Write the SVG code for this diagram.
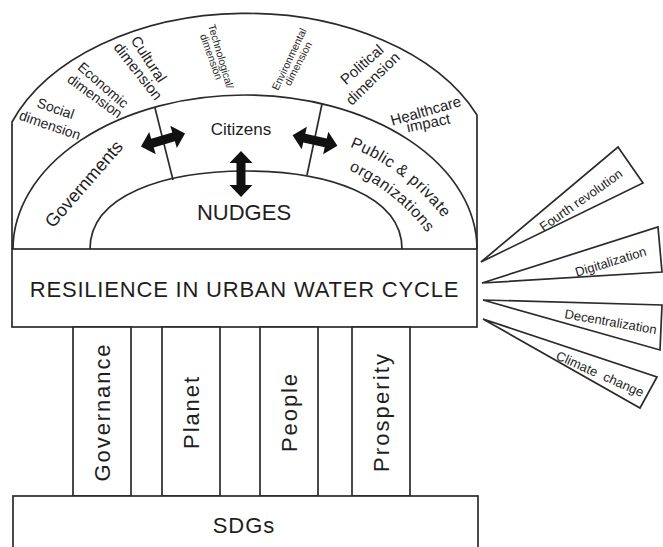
<svg xmlns="http://www.w3.org/2000/svg" width="663" height="547" viewBox="0 0 663 547">
<style>
.ln{fill:none;stroke:#2b2b2b;stroke-width:1.7;stroke-linejoin:round}
.bx{fill:#fff;stroke:#2b2b2b;stroke-width:1.7}
text{font-family:"Liberation Sans",Arial,sans-serif;fill:#1e1e1e}
.c{text-anchor:middle;dominant-baseline:central}
.arrow{fill:#111}
</style>
<defs>
<polygon id="dbl" points="-23,0 -11,-11.5 -11,-4.5 11,-4.5 11,-11.5 23,0 11,11.5 11,4.5 -11,4.5 -11,11.5"/>
<path id="pp1" d="M343.2,144.3 A220,220 0 0 1 474.7,275.8"/>
<path id="pp2" d="M335.7,164.9 A198,198 0 0 1 454.1,283.3"/>
</defs>
<rect width="663" height="547" fill="#fff"/>

<g id="dome">
<path class="ln" d="M12,249 L12,122 A250,166 0 0 1 477,115 L477,249"/>
<path class="ln" d="M13,249 A232,154 0 0 1 477,249"/>
<path class="ln" d="M90,249 C90,195 165,171 246,171 C327,171 402,195 402,249"/>
<line class="ln" x1="155" y1="108" x2="173" y2="180"/>
<line class="ln" x1="322" y1="104" x2="307" y2="175"/>
</g>

<g id="dimensions">
<text class="c" font-size="14" transform="translate(55.7,108.3) rotate(19)">Social</text>
<text class="c" font-size="14" transform="translate(50,125) rotate(19)">dimension</text>
<text class="c" font-size="14" transform="translate(103.3,85) rotate(41)">Economic</text>
<text class="c" font-size="14" transform="translate(95,96) rotate(36)">dimension</text>
<text class="c" font-size="15" transform="translate(149,59) rotate(57)">Cultural</text>
<text class="c" font-size="15" transform="translate(138.3,71) rotate(52)">dimension</text>
<text class="c" font-size="10.5" transform="translate(221.3,56.3) rotate(73.7)">Technological/</text>
<text class="c" font-size="10.5" transform="translate(211.7,56.7) rotate(70.3)">dimension</text>
<text class="c" font-size="10.5" transform="translate(288.8,59) rotate(-64.6)">Environmental</text>
<text class="c" font-size="10.5" transform="translate(297.8,63.4) rotate(-62.6)">dimension</text>
<text class="c" font-size="15" transform="translate(361.7,64.2) rotate(-41.5)">Political</text>
<text class="c" font-size="15" transform="translate(372.5,78.3) rotate(-44)">dimension</text>
<text class="c" font-size="15" transform="translate(425.7,110.5) rotate(-16)">Healthcare</text>
<text class="c" font-size="15" transform="translate(428.3,122.5) rotate(-12)">impact</text>
</g>

<g id="governments">
<text class="c" font-size="18" transform="translate(84,184) rotate(-49)">Governments</text>
</g>
<g id="citizens">
<text font-size="17" x="241" y="135" text-anchor="middle">Citizens</text>
</g>
<g id="organizations">
<text font-size="16" letter-spacing="0.5"><textPath href="#pp1" startOffset="7">Public &amp; private</textPath></text>
<text font-size="16" letter-spacing="0.5"><textPath href="#pp2" startOffset="14">organizations</textPath></text>
</g>
<g id="nudges">
<text font-size="22" x="244" y="220" text-anchor="middle">NUDGES</text>
</g>

<g id="connectors">
<use href="#dbl" class="arrow" transform="translate(163,140) rotate(-16.5)"/>
<use href="#dbl" class="arrow" transform="translate(315,140.5) rotate(13)"/>
<use href="#dbl" class="arrow" transform="translate(241,174) rotate(90)"/>
</g>

<g id="resilience">
<rect class="bx" x="12" y="249" width="465" height="78"/>
<text font-size="22" x="244.5" y="297" text-anchor="middle" letter-spacing="0.8">RESILIENCE IN URBAN WATER CYCLE</text>
</g>

<g id="pillar-governance">
<rect class="bx" x="73" y="327" width="58" height="169"/>
<text class="c" font-size="22" letter-spacing="1.9" transform="translate(102,412) rotate(-90)">Governance</text>
</g>
<g id="pillar-planet">
<rect class="bx" x="162" y="327" width="58" height="169"/>
<text class="c" font-size="22" letter-spacing="1.9" transform="translate(191.5,412) rotate(-90)">Planet</text>
</g>
<g id="pillar-people">
<rect class="bx" x="260" y="327" width="58" height="169"/>
<text class="c" font-size="22" letter-spacing="1.9" transform="translate(289.5,412) rotate(-90)">People</text>
</g>
<g id="pillar-prosperity">
<rect class="bx" x="352" y="327" width="58" height="169"/>
<text class="c" font-size="22" letter-spacing="2.1" transform="translate(381,412) rotate(-90)">Prosperity</text>
</g>

<g id="sdgs">
<rect class="bx" x="13" y="496" width="465" height="70"/>
<text font-size="22" x="244" y="533" text-anchor="middle" letter-spacing="1">SDGs</text>
</g>

<g id="fourth-revolution">
<polygon class="bx" points="481,262 618,147 643,183"/>
<text class="c" font-size="13" transform="translate(581,200) rotate(-35)">Fourth revolution</text>
</g>
<g id="digitalization">
<polygon class="bx" points="482,283 658,227 662,272"/>
<text class="c" font-size="13" transform="translate(610.7,261.7) rotate(-17)">Digitalization</text>
</g>
<g id="decentralization">
<polygon class="bx" points="483,300 662,305 660,350"/>
<text class="c" font-size="13" transform="translate(610.7,321.7) rotate(10)">Decentralization</text>
</g>
<g id="climate-change">
<polygon class="bx" points="483,319 657,377 640,408"/>
<text class="c" font-size="13" word-spacing="4" transform="translate(600,374) rotate(24)">Climate change</text>
</g>
</svg>
